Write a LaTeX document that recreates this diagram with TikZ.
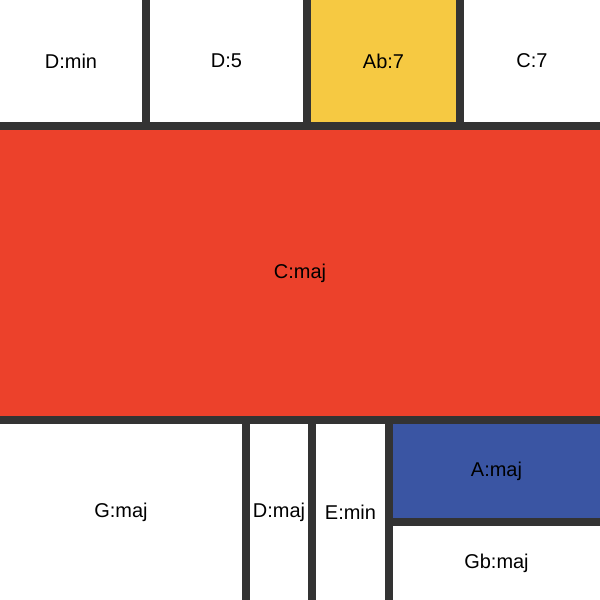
\documentclass[tikz,border=0pt]{standalone}
\usepackage{fontspec}
\setmainfont{Liberation Sans}
\usetikzlibrary{positioning}
\definecolor{grid}{HTML}{333333}
\definecolor{chordred}{HTML}{EC412B}
\definecolor{chordyellow}{HTML}{F6C942}
\definecolor{chordblue}{HTML}{3A55A3}

\begin{document}
\begin{tikzpicture}[x=0.025cm, y=-0.025cm, every node/.style={font=\fontsize{14.2}{17}\selectfont, text=black, inner sep=0pt}]
        % Define a macro for one cell: corners, colour, label, name
        \newcommand{\chordcell}[7]{%
          \fill[#5] (#1,#2) rectangle (#3,#4);
          \node (#7) at ({(#1+#3)/2},{(#2+#4)/2}) {#6};
        }

        % Dark background gives the black lines
        \fill[grid] (0,0) rectangle (600,600);
        \useasboundingbox (0,0) rectangle (600,600);

        % Top row
        \chordcell{0}{0}{142}{122}{white}{D:min}{dmin}
        \chordcell{150}{0}{303}{122}{white}{D:5}{dfive}
        \chordcell{311}{0}{456}{122}{chordyellow}{Ab:7}{abseven}
        \chordcell{464}{0}{600}{122}{white}{C:7}{cseven}

        % Middle band
        \chordcell{0}{130}{600}{416}{chordred}{C:maj}{cmaj}

        % Bottom row
        \chordcell{0}{424}{242}{600}{white}{G:maj}{gmaj}
        \chordcell{250}{424}{308}{600}{white}{D:maj}{dmaj}
        \chordcell{316}{424}{385}{600}{white}{E:min}{emin}
        \chordcell{393}{424}{600}{518}{chordblue}{A:maj}{amaj}
        \chordcell{393}{526}{600}{600}{white}{Gb:maj}{gbmaj}
      \end{tikzpicture}
\end{document}
